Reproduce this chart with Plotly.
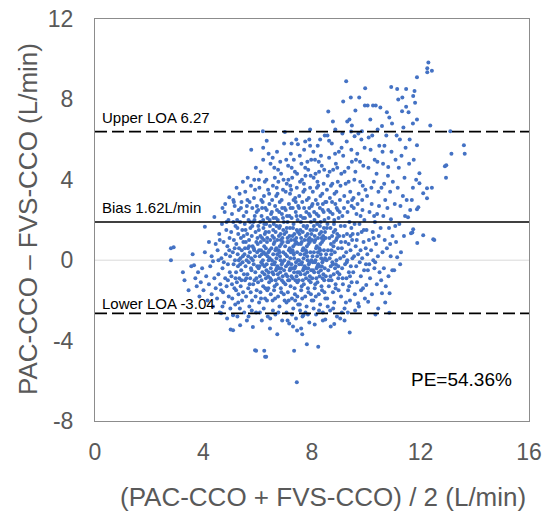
import plotly.graph_objects as go

# ---- data: (mean CCO, difference), grouped by x band ----
band_a = [(2.8,0.6),(2.8,0.0),(2.9,0.65),(3.24,-0.6),(3.3,-1.0),(3.45,-1.5),(3.55,-0.3),(3.6,0.3),(3.65,-0.25),(3.7,-0.9),
          (3.75,-1.3),(3.8,-0.6),(3.85,-1.8),(3.9,-1.1),(3.95,-0.4),(4.0,-1.5),(4.05,1.66),(4.05,0.4),(4.1,-0.8),(4.15,-2.0),
          (4.2,-1.2),(4.25,-0.3),(4.3,-1.7),(4.3,0.2),(4.35,-2.3),(4.4,2.15),(4.4,-0.9),(4.45,-1.4),(4.45,0.8),(4.2,0.9),(4.35,-0.05)]
band_b = [(4.5,-1.9),(4.52,0.5),(4.55,-0.7),(4.58,1.3),(4.6,-2.6),(4.62,-1.2),(4.65,-2.64),(4.66,0.1),(4.68,1.8),(4.7,-0.4),
          (4.72,-1.6),(4.74,0.9),(4.76,-2.1),(4.78,2.4),(4.8,-0.9),(4.82,0.3),(4.84,1.5),(4.85,-1.3),(4.87,-2.9),(4.88,0.7),
          (4.9,-0.2),(4.92,2.0),(4.93,-1.8),(4.95,3.13),(4.96,1.1),(4.97,-0.6),(4.98,0.2),(4.99,-2.4),(4.6,1.0),(4.7,2.6),
          (4.75,-0.1),(4.85,1.9),(4.9,-1.0),(4.55,0.0),(4.65,-1.5),(5.0,-3.45),(4.8,2.8),(4.95,0.5),(4.7,-2.3)]
band_c = [(5.02,1.4),(5.03,-0.8),(5.05,2.3),(5.06,-1.9),(5.08,0.4),(5.09,-2.74),(5.09,-3.48),(5.1,3.0),(5.11,-0.2),(5.12,1.0),
          (5.14,-1.4),(5.15,2.7),(5.16,0.0),(5.17,-2.2),(5.18,1.7),(5.2,-0.6),(5.21,0.8),(5.22,3.6),(5.23,-1.1),(5.24,2.0),
          (5.25,-2.8),(5.26,0.3),(5.27,-0.3),(5.28,1.3),(5.29,-1.7),(5.3,2.5),(5.31,0.6),(5.32,-0.9),(5.33,3.3),(5.34,-2.4),
          (5.35,-3.24),(5.35,1.9),(5.36,0.1),(5.37,-1.3),(5.38,1.1),(5.39,-0.5),(5.4,2.9),(5.41,0.5),(5.42,-2.0),(5.43,1.5),
          (5.44,-0.1),(5.45,3.9),(5.46,-1.6),(5.47,0.9),(5.48,2.2),(5.49,-0.7),(5.1,1.9),(5.2,-1.5),(5.3,0.0),(5.4,-1.0),
          (5.15,0.6),(5.25,1.6),(5.35,-0.2),(5.45,0.2),(5.05,-1.2),(5.38,2.6),(5.28,-2.1),(5.18,-0.9),(5.48,1.2),(5.12,2.9)]
band_d = [(5.5,-2.6),(5.51,0.3),(5.52,1.8),(5.53,-1.0),(5.54,3.4),(5.55,-0.3),(5.56,0.9),(5.57,-1.8),(5.58,2.4),(5.59,0.0),
          (5.6,-3.0),(5.61,1.3),(5.62,-0.7),(5.63,4.1),(5.64,0.6),(5.65,-1.4),(5.66,2.0),(5.67,-0.1),(5.68,1.0),(5.69,-2.3),
          (5.7,2.9),(5.71,0.4),(5.72,-0.9),(5.73,1.6),(5.74,-1.6),(5.75,3.7),(5.76,5.5),(5.76,0.1),(5.77,-0.5),(5.78,1.2),
          (5.79,-2.0),(5.8,2.6),(5.81,0.7),(5.82,-3.32),(5.83,-1.2),(5.84,1.9),(5.85,-0.2),(5.86,3.1),(5.87,0.5),(5.88,-1.0),
          (5.89,2.2),(5.9,-4.48),(5.9,0.2),(5.91,-0.6),(5.92,1.4),(5.93,4.6),(5.94,-4.5),(5.94,-2.6),(5.95,0.9),(5.96,-1.5),
          (5.97,2.7),(5.98,-0.3),(5.99,1.1),(5.55,1.5),(5.65,0.2),(5.75,-0.4),(5.85,0.6),(5.95,-0.9),(5.6,2.7),(5.7,-1.2),
          (5.8,1.7),(5.9,3.5),(5.58,-0.9),(5.68,0.7),(5.78,-2.5),(5.88,2.0),(5.98,0.4),(5.62,3.0),(5.72,1.9),(5.82,0.0),
          (5.92,-1.8),(5.53,0.6),(5.87,4.0),(5.66,-2.8),(5.96,2.4)]
band_e = [(6.0,0.8),(6.01,-1.1),(6.02,2.5),(6.03,-0.4),(6.04,1.5),(6.05,-2.1),(6.06,3.6),(6.07,0.2),(6.08,-0.8),(6.09,1.9),
          (6.1,-1.6),(6.11,4.4),(6.12,0.5),(6.13,-0.1),(6.14,2.2),(6.15,-3.0),(6.16,1.1),(6.17,-0.6),(6.18,2.9),(6.19,6.42),
          (6.19,0.0),(6.2,5.0),(6.2,-1.3),(6.21,1.6),(6.22,-2.4),(6.23,3.2),(6.24,-4.5),(6.24,0.7),(6.25,-0.3),(6.26,1.3),
          (6.27,-4.8),(6.27,-1.9),(6.28,2.6),(6.29,0.3),(6.3,-0.9),(6.31,-4.8),(6.31,1.8),(6.32,4.0),(6.33,5.94),(6.33,-0.2),
          (6.34,0.9),(6.35,-1.5),(6.36,2.1),(6.37,-2.8),(6.38,3.5),(6.39,0.4),(6.4,-0.6),(6.41,1.4),(6.42,-1.1),(6.43,2.8),
          (6.44,0.1),(6.45,-3.4),(6.46,-2.9),(6.46,1.0),(6.47,4.8),(6.48,-0.4),(6.49,2.3),(6.05,0.5),(6.1,1.2),(6.15,0.3),
          (6.2,2.0),(6.25,-0.7),(6.3,0.6),(6.35,1.1),(6.4,0.0),(6.45,1.7),(6.08,-2.6),(6.13,3.0),(6.18,-0.2),(6.23,1.0),
          (6.28,-1.4),(6.33,2.5),(6.38,-0.8),(6.43,0.5),(6.48,-1.7),(6.02,1.7),(6.12,-1.9),(6.22,0.4),(6.32,-0.5),(6.42,3.3),
          (6.06,-0.3),(6.16,2.6),(6.26,3.9),(6.36,0.2),(6.46,-0.9),(6.04,4.0),(6.14,-1.0),(6.24,1.8),(6.34,-2.0),(6.44,2.0),
          (6.2,5.6),(6.4,5.3),(6.11,0.9),(6.29,1.4),(6.39,-1.4)]
band_f = [(6.5,0.6),(6.51,-1.0),(6.52,2.4),(6.53,-0.2),(6.54,1.2),(6.55,-2.0),(6.56,3.7),(6.57,0.3),(6.58,-0.7),(6.59,1.8),
          (6.6,-1.5),(6.61,4.6),(6.62,0.9),(6.63,-0.1),(6.64,2.7),(6.65,-2.7),(6.66,1.4),(6.67,-0.5),(6.68,3.2),(6.69,0.1),
          (6.7,-1.2),(6.71,5.4),(6.72,-3.68),(6.72,1.0),(6.73,-0.3),(6.74,2.0),(6.75,-1.8),(6.76,3.9),(6.77,0.5),(6.78,-0.9),
          (6.79,1.6),(6.8,-2.3),(6.81,2.9),(6.82,0.2),(6.83,-0.6),(6.84,1.3),(6.85,-1.4),(6.86,4.3),(6.87,0.8),(6.88,-0.2),
          (6.89,2.3),(6.9,-3.0),(6.91,1.1),(6.92,-0.8),(6.93,3.5),(6.94,0.4),(6.95,-1.1),(6.96,1.9),(6.97,5.8),(6.98,0.0),
          (6.99,2.6),(7.0,6.38),(6.52,0.0),(6.57,1.5),(6.62,-1.3),(6.67,2.1),(6.72,0.3),(6.77,-0.4),(6.82,1.7),(6.87,-1.6),
          (6.92,0.9),(6.97,-0.5),(6.54,-0.6),(6.59,0.8),(6.64,-1.9),(6.69,1.7),(6.74,-0.7),(6.79,2.4),(6.84,0.0),(6.89,-1.0),
          (6.94,1.5),(6.99,-2.0),(6.53,3.0),(6.63,4.1),(6.73,3.3),(6.83,4.9),(6.93,2.1),(6.56,-2.5),(6.66,-1.0),(6.76,-2.6),
          (6.86,-0.4),(6.96,-1.7),(6.58,2.1),(6.68,0.6),(6.78,1.2),(6.88,3.0),(6.98,1.3),(6.61,-0.2),(6.71,2.5),(6.81,0.7),
          (6.91,-0.1),(6.55,5.1),(6.75,4.5),(6.95,4.0),(6.6,1.1),(6.7,-0.4),(6.8,0.4),(6.9,2.6),(6.65,0.5),(6.85,1.0),(6.7,3.6)]
band_g = [(7.01,0.7),(7.02,-1.2),(7.03,2.5),(7.04,-0.3),(7.05,1.4),(7.06,-2.1),(7.07,3.8),(7.08,0.2),(7.09,-0.8),(7.1,1.9),
          (7.11,-1.6),(7.12,4.7),(7.13,0.9),(7.14,-0.1),(7.15,2.8),(7.16,-3.15),(7.17,1.2),(7.18,-0.5),(7.19,3.3),(7.2,0.1),
          (7.21,-1.3),(7.22,5.3),(7.23,1.0),(7.24,-0.2),(7.25,2.1),(7.26,-1.9),(7.27,4.1),(7.28,0.5),(7.29,-0.9),(7.3,1.6),
          (7.31,-2.4),(7.32,3.0),(7.33,0.3),(7.34,-4.5),(7.34,-0.6),(7.35,1.3),(7.36,-1.4),(7.37,4.4),(7.38,0.8),(7.39,-0.3),
          (7.4,2.4),(7.41,-2.9),(7.42,6.0),(7.42,1.1),(7.43,-0.8),(7.44,-6.07),(7.44,3.6),(7.45,0.4),(7.46,-1.1),(7.47,2.0),
          (7.48,5.77),(7.48,0.0),(7.49,2.7),(7.02,0.3),(7.07,1.6),(7.12,-1.0),(7.17,2.2),(7.22,0.4),(7.27,-0.4),(7.32,1.8),
          (7.37,-1.7),(7.42,0.9),(7.47,-0.6),(7.04,-0.7),(7.09,0.9),(7.14,-2.0),(7.19,1.6),(7.24,-0.8),(7.29,2.6),(7.34,0.1),
          (7.39,-1.0),(7.44,1.5),(7.49,-2.2),(7.03,3.4),(7.13,4.0),(7.23,3.5),(7.33,5.0),(7.43,2.2),(7.06,-2.6),(7.16,-1.0),
          (7.26,-2.7),(7.36,-0.4),(7.46,-1.8),(7.08,2.2),(7.18,0.6),(7.28,1.2),(7.38,3.1),(7.48,1.4),(7.11,-0.2),(7.21,2.6),
          (7.31,0.7),(7.41,-0.1),(7.05,5.0),(7.25,4.6),(7.45,4.3),(7.1,1.1),(7.2,-0.4),(7.3,0.4),(7.4,2.9),(7.15,0.5),
          (7.35,1.0),(7.2,3.7),(7.3,-3.3),(7.1,-3.0),(7.45,-3.5),(7.25,5.8),(7.38,-2.0)]
band_h = [(7.5,0.8),(7.51,-1.0),(7.52,2.6),(7.53,-0.2),(7.54,1.3),(7.55,-2.2),(7.56,3.9),(7.57,0.3),(7.58,-0.7),(7.59,1.9),
          (7.6,-1.5),(7.61,4.8),(7.62,0.9),(7.63,-0.1),(7.64,2.9),(7.64,-3.68),(7.65,-2.8),(7.66,1.4),(7.67,-0.5),(7.68,3.4),
          (7.68,-2.74),(7.69,0.1),(7.7,-1.2),(7.71,5.5),(7.72,1.0),(7.73,-0.3),(7.74,2.1),(7.75,-1.8),(7.76,4.2),(7.77,0.5),
          (7.78,-0.9),(7.79,1.6),(7.8,-2.3),(7.81,-4.18),(7.81,3.0),(7.82,0.2),(7.83,-0.6),(7.84,1.3),(7.85,-1.4),(7.86,4.5),
          (7.87,0.8),(7.88,-0.2),(7.89,2.3),(7.9,6.0),(7.9,-3.1),(7.91,1.1),(7.92,-0.8),(7.93,6.5),(7.93,5.7),(7.93,3.6),
          (7.94,0.4),(7.95,-1.1),(7.96,1.9),(7.97,5.0),(7.98,0.0),(7.99,2.7),(7.52,0.0),(7.57,1.5),(7.62,-1.3),(7.67,2.1),
          (7.72,0.3),(7.77,-0.4),(7.82,1.7),(7.87,-1.6),(7.92,0.9),(7.97,-0.5),(7.54,-0.6),(7.59,0.8),(7.64,-1.9),(7.69,1.7),
          (7.74,-0.7),(7.79,2.4),(7.84,0.0),(7.89,-1.0),(7.94,1.5),(7.99,-2.0),(7.53,3.2),(7.63,4.0),(7.73,3.5),(7.83,4.9),
          (7.93,2.2),(7.56,-2.5),(7.66,-1.0),(7.76,-2.6),(7.86,-0.4),(7.96,-1.7),(7.58,2.2),(7.68,0.6),(7.78,1.2),(7.88,3.1),
          (7.98,1.3),(7.61,-0.2),(7.71,2.6),(7.81,0.7),(7.91,-0.1),(7.55,5.2),(7.75,4.6),(7.95,4.2),(7.6,1.1),(7.7,-0.4),
          (7.8,0.4),(7.9,2.6),(7.65,0.5),(7.85,1.0),(7.7,3.8),(7.6,-3.4),(7.85,-2.7),(7.75,5.9)]
band_i = [(8.0,1.0),(8.01,-0.9),(8.02,2.8),(8.03,-0.1),(8.04,1.5),(8.05,-2.0),(8.06,4.1),(8.07,0.4),(8.08,-0.6),(8.09,2.0),
          (8.1,-1.4),(8.11,5.0),(8.12,1.0),(8.13,0.0),(8.14,3.0),(8.15,-2.7),(8.16,1.5),(8.17,-0.4),(8.18,3.6),(8.19,0.2),
          (8.2,-1.1),(8.21,5.7),(8.22,1.1),(8.23,-4.3),(8.23,-0.2),(8.24,2.2),(8.25,-1.7),(8.26,4.4),(8.27,0.6),(8.28,-0.8),
          (8.29,1.7),(8.3,-2.2),(8.31,3.2),(8.32,0.3),(8.33,-0.5),(8.34,1.4),(8.35,-1.3),(8.36,4.7),(8.37,0.9),(8.38,-0.1),
          (8.39,2.5),(8.4,-3.0),(8.41,1.2),(8.42,-0.7),(8.43,3.8),(8.44,0.5),(8.45,-1.0),(8.46,2.0),(8.47,6.2),(8.48,0.1),
          (8.49,-2.95),(8.49,2.9),(8.02,0.2),(8.07,1.7),(8.12,-1.2),(8.17,2.3),(8.22,0.4),(8.27,-0.3),(8.32,1.9),(8.37,-1.5),
          (8.42,1.0),(8.47,-0.4),(8.04,-0.5),(8.09,0.9),(8.14,-1.8),(8.19,1.8),(8.24,-0.6),(8.29,2.6),(8.34,0.1),(8.39,-0.9),
          (8.44,1.6),(8.49,-1.9),(8.03,3.4),(8.13,4.3),(8.23,3.7),(8.33,5.2),(8.43,2.4),(8.06,-2.4),(8.16,-0.9),(8.26,-2.5),
          (8.36,-0.3),(8.46,-1.6),(8.08,2.4),(8.18,0.7),(8.28,1.3),(8.38,3.3),(8.48,1.4),(8.11,-0.1),(8.21,2.8),(8.31,0.8),
          (8.41,0.0),(8.05,5.4),(8.25,4.9),(8.45,4.5),(8.1,1.2),(8.2,-0.3),(8.3,0.5),(8.4,2.8),(8.15,0.6),(8.35,1.1),
          (8.2,3.9),(8.3,6.0),(8.1,-3.2),(8.4,-2.6)]
band_j = [(8.5,1.1),(8.51,-0.8),(8.53,2.9),(8.54,0.0),(8.55,1.6),(8.56,-1.9),(8.58,4.2),(8.59,0.5),(8.6,7.4),(8.6,-0.5),
          (8.61,2.1),(8.62,-1.3),(8.63,5.94),(8.63,5.1),(8.64,1.1),(8.65,0.1),(8.66,3.1),(8.67,-2.5),(8.68,1.6),(8.69,-0.3),
          (8.7,3.7),(8.71,0.3),(8.72,-1.0),(8.73,5.8),(8.74,1.2),(8.75,-0.1),(8.76,2.3),(8.77,6.9),(8.77,-1.6),(8.78,4.5),
          (8.79,0.7),(8.8,-0.7),(8.81,1.8),(8.82,-3.18),(8.82,-2.1),(8.83,3.3),(8.84,0.4),(8.85,-0.4),(8.86,6.5),(8.86,1.5),
          (8.87,-1.2),(8.88,4.8),(8.89,1.0),(8.9,0.0),(8.91,2.6),(8.92,-2.8),(8.93,1.3),(8.94,-0.6),(8.95,3.9),(8.96,0.6),
          (8.97,-0.9),(8.98,2.1),(8.99,5.4),(8.52,0.3),(8.57,1.8),(8.62,-1.0),(8.67,2.4),(8.72,0.5),(8.77,-0.2),(8.82,2.0),
          (8.87,-1.4),(8.92,1.1),(8.97,-0.3),(8.55,3.5),(8.65,4.4),(8.75,3.8),(8.85,5.3),(8.95,2.5),(8.58,-2.3),(8.68,-0.8),
          (8.78,-2.4),(8.88,-0.2),(8.98,-1.5),(8.6,2.5),(8.7,0.8),(8.8,1.4),(8.9,3.4),(8.57,6.2),(8.69,-3.3),(8.81,0.9),
          (8.93,4.6),(8.74,2.9),(8.86,2.8)]
band_k = [(9.0,1.2),(9.01,-0.7),(9.03,3.0),(9.04,-2.9),(9.04,0.1),(9.06,1.7),(9.07,-1.8),(9.08,4.3),(9.1,0.6),(9.11,-0.4),
          (9.12,2.2),(9.14,-1.2),(9.15,7.9),(9.15,5.2),(9.16,1.2),(9.17,0.2),(9.19,3.2),(9.2,-2.4),(9.21,1.7),(9.22,-0.2),
          (9.24,3.8),(9.26,8.9),(9.26,0.4),(9.27,-0.9),(9.28,5.9),(9.29,1.3),(9.3,0.0),(9.31,2.4),(9.33,-1.5),(9.34,4.6),
          (9.35,0.8),(9.36,-0.6),(9.38,1.9),(9.39,-3.6),(9.4,-2.0),(9.41,3.4),(9.42,0.5),(9.43,8.1),(9.43,-0.3),(9.44,6.4),
          (9.45,1.6),(9.46,-1.1),(9.47,6.7),(9.47,4.9),(9.48,1.0),(9.49,0.1),(9.02,2.4),(9.09,5.6),(9.13,-0.9),(9.18,2.6),
          (9.23,0.9),(9.28,-0.1),(9.32,2.9),(9.37,-1.3),(9.42,1.2),(9.46,2.7),(9.05,3.7),(9.2,4.4),(9.35,3.9),(9.45,5.5),
          (9.1,-2.6),(9.25,-2.1),(9.4,-0.8),(9.12,6.3),(9.3,6.9),(9.2,-3.0),(9.48,3.0),(9.38,7.0),(9.07,0.9),(9.32,-2.6)]
band_l = [(9.5,1.3),(9.52,-0.6),(9.53,3.1),(9.55,0.2),(9.57,6.17),(9.57,1.8),(9.58,-1.7),(9.6,7.45),(9.6,4.4),(9.61,0.7),
          (9.63,-0.3),(9.64,2.3),(9.66,-1.1),(9.67,5.3),(9.69,1.3),(9.7,-2.14),(9.7,0.3),(9.72,3.3),(9.73,-2.3),(9.74,8.1),
          (9.75,1.8),(9.76,-0.1),(9.78,3.9),(9.79,0.5),(9.8,-0.8),(9.82,6.0),(9.83,1.4),(9.84,6.42),(9.85,0.1),(9.86,2.5),
          (9.88,-1.4),(9.89,4.7),(9.9,0.9),(9.92,-0.5),(9.93,2.0),(9.95,7.7),(9.95,-1.9),(9.96,8.55),(9.97,3.5),(9.98,0.6),
          (9.99,-0.2),(9.54,2.6),(9.62,5.0),(9.68,2.8),(9.77,4.9),(9.87,3.7),(9.94,5.6),(9.59,-2.5),(9.81,-1.5),(9.91,1.5),
          (9.65,1.0),(9.71,6.3),(9.85,3.0),(9.56,4.0),(9.79,2.2)]
band_m = [(10.0,-1.24),(10.01,1.5),(10.03,3.2),(10.04,0.3),(10.05,7.7),(10.06,-0.5),(10.07,-2.07),(10.08,4.6),(10.1,1.0),
          (10.12,2.4),(10.14,-0.9),(10.15,7.0),(10.16,5.5),(10.18,0.5),(10.2,2.8),(10.21,-1.7),(10.22,6.2),(10.24,1.4),
          (10.25,7.7),(10.26,0.0),(10.28,3.9),(10.3,-0.4),(10.31,5.0),(10.32,1.9),(10.34,-2.7),(10.35,7.7),(10.36,0.8),
          (10.38,4.3),(10.39,-1.2),(10.4,2.3),(10.42,6.5),(10.43,0.2),(10.44,-2.4),(10.45,3.4),(10.46,1.2),(10.48,5.7),
          (10.49,-0.6),(10.09,6.1),(10.19,3.6),(10.29,2.2),(10.33,-0.1),(10.41,4.9),(10.11,-0.2),(10.27,1.1),(10.47,2.7)]
band_n = [(10.52,7.6),(10.53,1.6),(10.55,-1.0),(10.56,3.6),(10.58,6.68),(10.58,-1.64),(10.6,0.4),(10.62,4.8),(10.63,2.2),
          (10.65,-0.4),(10.67,5.7),(10.68,1.0),(10.7,3.0),(10.72,-1.3),(10.74,6.2),(10.76,7.36),(10.76,0.6),(10.78,2.6),
          (10.8,4.2),(10.81,4.64),(10.82,-0.8),(10.84,1.6),(10.85,7.1),(10.85,-2.62),(10.86,-1.64),(10.88,3.4),(10.9,0.2),
          (10.91,2.04),(10.92,8.62),(10.93,5.4),(10.95,6.8),(10.96,-0.5),(10.97,1.2),(10.98,3.9),(10.6,5.4),(10.7,-2.1),
          (10.88,0.8),(10.66,3.8)]
band_o = [(11.03,-0.5),(11.05,2.8),(11.08,5.0),(11.1,0.9),(11.12,6.2),(11.14,8.52),(11.14,0.15),(11.16,3.6),(11.18,8.0),
          (11.2,4.6),(11.22,1.8),(11.24,6.0),(11.26,2.7),(11.28,0.4),(11.3,5.2),(11.32,7.41),(11.33,8.1),(11.35,3.2),
          (11.37,6.6),(11.39,1.2),(11.41,4.1),(11.43,2.2),(11.45,5.6),(11.47,8.52),(11.47,7.63),(11.49,3.0),(11.07,1.7),
          (11.25,-0.2)]
band_p = [(11.54,2.14),(11.56,7.36),(11.58,4.8),(11.6,6.0),(11.65,1.34),(11.68,3.0),(11.7,1.38),(11.72,6.8),(11.72,3.6),
          (11.73,8.17),(11.73,1.54),(11.75,5.0),(11.78,8.42),(11.8,7.83),(11.84,4.0),(11.87,9.1),(11.87,7.0),(11.87,5.72),
          (11.87,2.54),(11.88,0.85),(11.92,2.63),(11.96,4.33),(11.96,3.83),(11.62,2.5)]
band_q = [(12.1,1.24),(12.1,3.33),(12.24,3.58),(12.24,3.08),(12.25,9.55),(12.25,9.35),(12.29,9.83),(12.36,6.7),(12.42,9.42),
          (12.42,3.6),(12.47,1.04),(12.51,1.0),(12.9,4.68),(12.94,4.1),(12.95,4.73),(13.1,6.42),(13.14,5.3),(13.6,5.72),
          (13.63,5.3)]

bands = [band_a, band_b, band_c, band_d, band_e, band_f, band_g, band_h, band_i,
         band_j, band_k, band_l, band_m, band_n, band_o, band_p, band_q]
mean_cco = [p[0] for b in bands for p in b]
diff_cco = [p[1] for b in bands for p in b]

# reference lines (as drawn) and their labels
upper_loa = 6.4
bias = 1.9
lower_loa = -2.65
labels = ["Upper LOA 6.27", "Bias 1.62L/min", "Lower LOA -3.04"]
label_y = [7.1, 2.6, -2.15]
pe_text = "PE=54.36%"

x_ticks = [0, 4, 8, 12, 16]
x_ticktext = ["0", "4", "8", "12", "16"]
y_ticks = [-8, -4, 0, 4, 8, 12]
y_ticktext = ["-8", "-4", "0", "4", "8", "12"]

FONT = "Liberation Sans, Arial, sans-serif"
GREY = "#595959"

fig = go.Figure()
fig.add_trace(go.Scatter(
    x=mean_cco, y=diff_cco, mode="markers",
    marker=dict(color="#4472C4", size=4, line=dict(width=0)),
    showlegend=False, hoverinfo="skip"))

# zero line
fig.add_shape(type="line", xref="paper", x0=0, x1=1, yref="y", y0=0, y1=0,
              line=dict(color="#d9d9d9", width=1), layer="below")
for yv, dash in [(upper_loa, "12px,5px"), (bias, "solid"), (lower_loa, "12px,5px")]:
    fig.add_shape(type="line", xref="paper", x0=0, x1=1, yref="y", y0=yv, y1=yv,
                  line=dict(color="black", width=1.7, dash=dash), layer="above")

for txt, yv in zip(labels, label_y):
    fig.add_annotation(x=0.2, y=yv, xref="x", yref="y", text=txt, showarrow=False,
                       xanchor="left", yanchor="middle",
                       font=dict(family=FONT, size=15, color="black"))
fig.add_annotation(x=15.45, y=-5.92, xref="x", yref="y", text=pe_text, showarrow=False,
                   xanchor="right", yanchor="middle",
                   font=dict(family=FONT, size=19, color="black"))

# axis titles
fig.add_annotation(x=(322.5 - 95) / 434, y=(421 - 497) / 402, xref="paper", yref="paper",
                   text="(PAC-CCO + FVS-CCO) / 2 (L/min)", showarrow=False,
                   xanchor="center", yanchor="middle",
                   font=dict(family=FONT, size=26, color=GREY))
fig.add_annotation(x=(28 - 95) / 434, y=(421 - 219) / 402, xref="paper", yref="paper",
                   text="PAC-CCO – FVS-CCO (L/min)", textangle=-90, showarrow=False,
                   xanchor="center", yanchor="middle",
                   font=dict(family=FONT, size=26, color=GREY))

fig.update_layout(
    width=545, height=514,
    margin=dict(l=95, r=16, t=19, b=93, autoexpand=False),
    paper_bgcolor="white", plot_bgcolor="white",
    font=dict(family=FONT, color=GREY),
    xaxis=dict(range=[0, 16], tickvals=x_ticks, ticktext=x_ticktext, ticks="", showgrid=False, zeroline=False,
               showline=True, mirror=True, linecolor="#8c8c8c", linewidth=1, automargin=False,
               tickfont=dict(size=23, color=GREY), ticklabelstandoff=10),
    yaxis=dict(range=[-8, 12], tickvals=y_ticks, ticktext=y_ticktext, ticks="", showgrid=False, zeroline=False,
               showline=True, mirror=True, linecolor="#8c8c8c", linewidth=1, automargin=False,
               tickfont=dict(size=23, color=GREY), ticklabelstandoff=16),
)

fig.write_html("out.html")
